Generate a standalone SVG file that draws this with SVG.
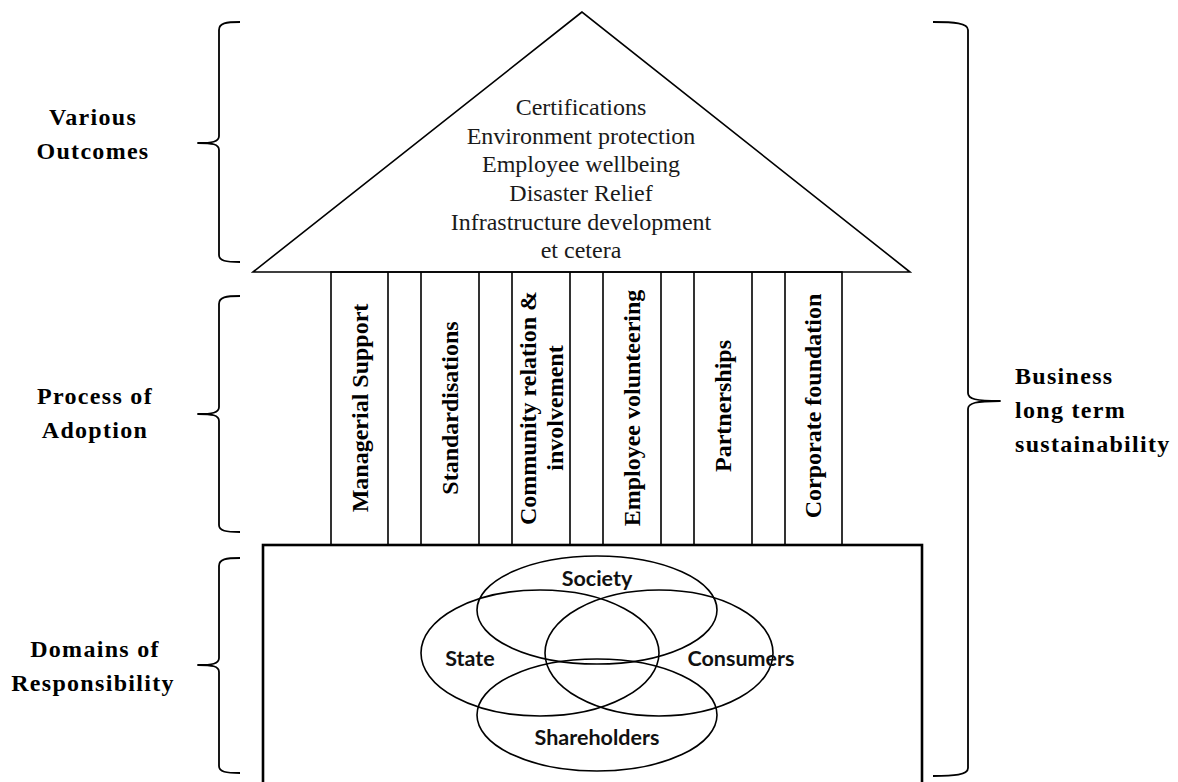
<svg xmlns="http://www.w3.org/2000/svg" width="1178" height="782" viewBox="0 0 1178 782">
  <style>
    .ln { fill: none; stroke: #000; stroke-width: 1.6; }
    .brace { fill: none; stroke: #000; stroke-width: 1.8; stroke-linejoin: round; }
    .box { fill: #fff; stroke: #000; stroke-width: 2.6; }
    .roof { fill: #fff; stroke: #000; stroke-width: 1.6; stroke-linejoin: miter; }
    .venn { fill: none; stroke: #000; stroke-width: 1.6; }
    .outcome { font-family: "Liberation Serif", "Times New Roman", serif; font-size: 24px; fill: #1a1a1a; text-anchor: middle; }
    .pillar { font-family: "Liberation Serif", "Times New Roman", serif; font-size: 24px; font-weight: bold; fill: #000; text-anchor: middle; }
    .side { font-family: "Liberation Serif", "Times New Roman", serif; font-size: 24px; font-weight: bold; letter-spacing: 1.3px; fill: #000; }
    .domain { font-family: Lato, "Open Sans", sans-serif; font-size: 21.5px; font-weight: bold; fill: #111; text-anchor: middle; }
  </style>
  <rect width="1178" height="782" fill="#fff"/>

  <!-- roof: outcomes -->
  <g id="roof">
    <polygon class="roof" points="582,12 253,272 910,272"/>
    <text class="outcome" x="581" y="115">Certifications</text>
    <text class="outcome" x="581" y="144">Environment protection</text>
    <text class="outcome" x="581" y="172">Employee wellbeing</text>
    <text class="outcome" x="581" y="201">Disaster Relief</text>
    <text class="outcome" x="581" y="230">Infrastructure development</text>
    <text class="outcome" x="581" y="258">et cetera</text>
  </g>

  <!-- pillars: process of adoption -->
  <g id="pillars">
    <rect class="ln" x="331" y="272" width="511" height="273"/>
    <path class="ln" d="M388,272V545 M421,272V545 M479,272V545 M512,272V545 M570,272V545 M603,272V545 M661,272V545 M694,272V545 M752,272V545 M785,272V545"/>
    <g id="pillar-managerial"><text class="pillar" transform="translate(368,408) rotate(-90)">Managerial Support</text></g>
    <g id="pillar-standard"><text class="pillar" transform="translate(458,408) rotate(-90)">Standardisations</text></g>
    <g id="pillar-community"><text class="pillar" transform="translate(536,408) rotate(-90)">Community relation &amp;</text>
      <text class="pillar" transform="translate(563,408) rotate(-90)">involvement</text></g>
    <g id="pillar-volunteering"><text class="pillar" transform="translate(640,408) rotate(-90)">Employee volunteering</text></g>
    <g id="pillar-partnerships"><text class="pillar" transform="translate(731,406) rotate(-90)">Partnerships</text></g>
    <g id="pillar-foundation"><text class="pillar" transform="translate(821,406) rotate(-90)">Corporate foundation</text></g>
  </g>

  <!-- base: domains of responsibility -->
  <g id="base">
    <rect class="box" x="263" y="545" width="659" height="250"/>
    <g id="venn">
      <ellipse class="venn" cx="597" cy="610" rx="120" ry="54"/>
      <ellipse class="venn" cx="540" cy="653" rx="119" ry="63"/>
      <ellipse class="venn" cx="659" cy="653" rx="114" ry="63"/>
      <ellipse class="venn" cx="597" cy="715" rx="120" ry="56"/>
      <text class="domain" x="597" y="586">Society</text>
      <text class="domain" x="470" y="666">State</text>
      <text class="domain" x="741" y="666">Consumers</text>
      <text class="domain" x="597" y="745">Shareholders</text>
    </g>
  </g>

  <!-- side braces and labels -->
  <g id="label-outcomes">
    <path class="brace" d="M240,22 C226,22 219,23 219,30 L219,136 C219,142 212,143 198,143 C212,143 219,144 219,150 L219,255 C219,261 226,262 240,262"/>
    <text class="side" text-anchor="middle" x="93" y="125">Various</text>
    <text class="side" text-anchor="middle" x="93" y="159">Outcomes</text>
  </g>
  <g id="label-process">
    <path class="brace" d="M240,296 C226,296 219,297 219,304 L219,407 C219,413 212,414 198,414 C212,414 219,415 219,421 L219,525 C219,531 226,532 240,532"/>
    <text class="side" text-anchor="middle" x="95" y="404">Process of</text>
    <text class="side" text-anchor="middle" x="95" y="438">Adoption</text>
  </g>
  <g id="label-domains">
    <path class="brace" d="M240,558 C226,558 219,559 219,566 L219,658 C219,664 212,665 198,665 C212,665 219,666 219,672 L219,766 C219,772 226,773 240,773"/>
    <text class="side" text-anchor="middle" x="95" y="657">Domains of</text>
    <text class="side" text-anchor="middle" x="93" y="691">Responsibility</text>
  </g>
  <g id="label-sustainability">
    <path class="brace" d="M933,22 C954,22 968,23 968,30 L968,393 C968,399 976,401 1000,401 C976,401 968,403 968,409 L968,768 C968,775 954,776 933,776"/>
    <text class="side" x="1015" y="384">Business</text>
    <text class="side" x="1015" y="418">long term</text>
    <text class="side" x="1015" y="452">sustainability</text>
  </g>
</svg>
